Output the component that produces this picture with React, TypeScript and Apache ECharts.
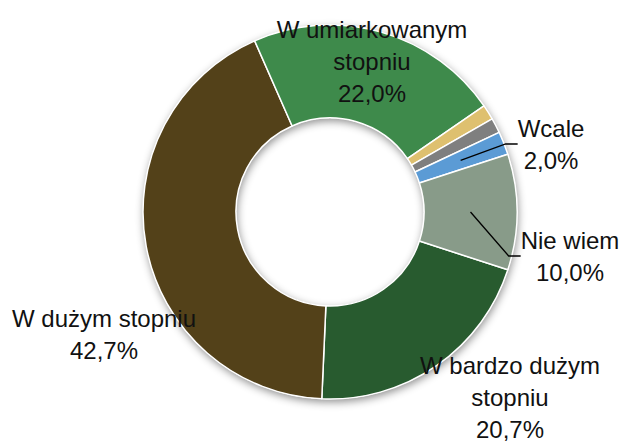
import React, { useEffect, useRef } from "react";
import * as echarts from "echarts";

// ---- data ----
const categories = [
  "W bardzo dużym stopniu",
  "W dużym stopniu",
  "W umiarkowanym stopniu",
  "W małym stopniu",
  "W bardzo małym stopniu",
  "Wcale",
  "Nie wiem",
];
const values = [20.7, 42.7, 22.0, 1.3, 1.3, 2.0, 10.0];
const labelNames = [
  "W bardzo dużym\nstopniu",
  "W dużym stopniu",
  "W umiarkowanym\nstopniu",
  "",
  "",
  "Wcale",
  "Nie wiem",
];
const showMainLabel = [true, true, true, false, false, false, false];
const showLeaderLabel = [false, false, false, false, false, true, true];

// ---- styles / layout ----
const colors = ["#285B2F", "#534119", "#3E8A4B", "#DEC06F", "#7F7F7F", "#5B9BD5", "#889B89"];
const labelCenters: [number, number][] = [
  [510, 397],
  [104, 334],
  [372, 61],
  [0, 0],
  [0, 0],
  [551, 144],
  [570, 256],
];
const CX = 330;
const CY = 212;
const R_IN = 94;
const R_OUT = 187;
const START = -18;

const fmt = (v: number) => v.toFixed(1).replace(".", ",") + "%";

const textStyle = {
  fontFamily: "'Liberation Sans', Arial, sans-serif",
  fontSize: 24,
  lineHeight: 32,
  color: "#111",
};

export default function App() {
  const ref = useRef<HTMLDivElement>(null);
  useEffect(() => {
    document.body.style.margin = "0";
    if (!ref.current) return;
    const chart = echarts.init(ref.current, undefined, { renderer: "svg" });
    const total = values.reduce((a, b) => a + b, 0);
    const layoutFn = (params: any) => {
      const p = labelCenters[params.dataIndex];
      return { x: p[0], y: p[1], align: "center", verticalAlign: "middle" };
    };
    chart.setOption({
      animation: false,
      backgroundColor: "#fff",
      series: [
        {
          type: "pie",
          name: "shadow",
          center: [CX, CY],
          radius: [R_IN, R_OUT],
          silent: true,
          z: 1,
          label: { show: false },
          labelLine: { show: false },
          emphasis: { disabled: true },
          itemStyle: {
            color: "#ffffff",
            shadowBlur: 8,
            shadowOffsetX: 1,
            shadowOffsetY: 3,
            shadowColor: "rgba(0,0,0,0.45)",
          },
          data: [{ value: total, name: "" }],
        },
        {
          type: "pie",
          name: "main",
          center: [CX, CY],
          radius: [R_IN, R_OUT],
          startAngle: START,
          clockwise: true,
          z: 2,
          avoidLabelOverlap: false,
          emphasis: { disabled: true },
          itemStyle: { borderColor: "#ffffff", borderWidth: 1.5 },
          labelLine: { show: false },
          labelLayout: layoutFn,
          data: values.map((v, i) => ({
            value: v,
            name: categories[i],
            itemStyle: { color: colors[i] },
            label: {
              show: showMainLabel[i],
              position: "outside",
              formatter: () => labelNames[i] + "\n" + fmt(v),
              ...textStyle,
            },
          })),
        },
        {
          type: "pie",
          name: "leaders",
          center: [CX, CY],
          radius: [0, (R_IN + R_OUT) / 2],
          startAngle: START,
          clockwise: true,
          z: 3,
          silent: true,
          avoidLabelOverlap: false,
          emphasis: { disabled: true },
          itemStyle: { color: "rgba(0,0,0,0)", borderWidth: 0 },
          labelLayout: layoutFn,
          data: values.map((v, i) => ({
            value: v,
            name: categories[i],
            label: {
              show: showLeaderLabel[i],
              position: "outside",
              formatter: () => labelNames[i] + "\n" + fmt(v),
              ...textStyle,
            },
            labelLine: {
              show: showLeaderLabel[i],
              length: 10,
              length2: 12,
              smooth: false,
              lineStyle: { color: "#000", width: 1.3 },
            },
          })),
        },
      ],
    });
    return () => chart.dispose();
  }, []);
  return <div ref={ref} style={{ width: 622, height: 443 }} />;
}
